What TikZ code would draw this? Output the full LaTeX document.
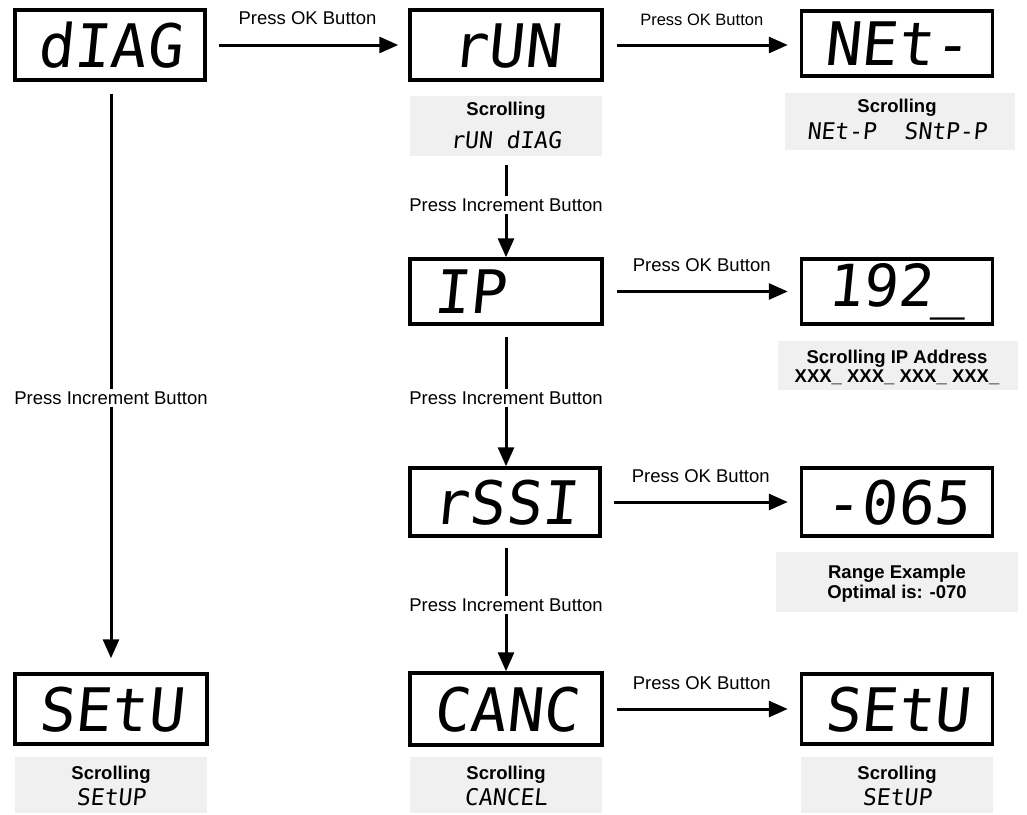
\documentclass[tikz,border=0pt]{standalone}
\usepackage{fontspec}
\setmainfont{Liberation Sans}
\newfontfamily\segfont[FakeSlant=0.1]{DejaVu Sans Mono}
\usetikzlibrary{arrows.meta}
\definecolor{scrgrey}{RGB}{240,240,240}
\tikzset{
  disp/.style={draw, line width=3.5pt, inner sep=0pt, minimum width=191pt, minimum height=70pt,
    text height=44pt, text depth=0pt, font=\segfont\fontsize{60}{60}\selectfont},
  scrbox/.style={fill=scrgrey, draw=none, inner sep=0pt},
  scrtxt/.style={inner sep=0pt, anchor=base, font=\bfseries\fontsize{18.5}{22}\selectfont},
  segtxt/.style={inner sep=0pt, anchor=base, font=\segfont\fontsize{23}{23}\selectfont},
  lab/.style={inner sep=0pt, font=\fontsize{18.5}{22}\selectfont},
  vlab/.style={lab, fill=white, inner sep=3pt},
  arr/.style={line width=3pt, -{Triangle[length=19pt,width=16pt]}}
}
\begin{document}
\begin{tikzpicture}[x=1pt,y=-1pt]
\useasboundingbox (0,0) rectangle (1027,814);

% ---- display boxes
\node[disp, minimum width=190pt] (diag) at (110,45) {dIAG};
\node[disp, minimum width=192pt] (setL) at (111,709) {SEtU};
\node[disp, minimum width=192pt] (run) at (506,45) {rUN};
\node[disp, minimum width=192pt, minimum height=65pt] (ip) at (506,291.5) {IP\phantom{PP}};
\node[disp, minimum width=190pt, minimum height=68pt] (rssi) at (505,502) {rSSI};
\node[disp, minimum width=192pt, minimum height=72pt] (canc) at (506,709) {CANC};
\node[disp, minimum height=65pt] (net) at (897,43.5) {NEt-};
\node[disp, minimum height=65pt, text height=42pt, text depth=12pt,
      font=\segfont\fontsize{58}{58}\selectfont] (n192) at (897,291.5) {192\_};
\node[disp, minimum height=68pt] (n065) at (897,502) {-065};
\node[disp] (setR) at (897,709) {SEtU};

% ---- grey scrolling boxes
\node[scrbox, minimum width=192pt, minimum height=56pt] (gsetL) at (111,785) {};
\node[scrtxt] (gsetLa) at (111,779) {Scrolling};
\node[segtxt] (gsetLb) at (111,805) {SEtUP};

\node[scrbox, minimum width=192pt, minimum height=60pt] (grun) at (506,126) {};
\node[scrtxt] (gruna) at (506,115.6) {Scrolling};
\node[segtxt] (grunb) at (506,148) {rUN dIAG};

\node[scrbox, minimum width=192pt, minimum height=56pt] (gcanc) at (506,785) {};
\node[scrtxt] (gcanca) at (506,779) {Scrolling};
\node[segtxt] (gcancb) at (506,805) {CANCEL};

\node[scrbox, minimum width=230pt, minimum height=57pt] (gnet) at (900,121.5) {};
\node[scrtxt] (gneta) at (897,112) {Scrolling};
\node[segtxt] (gnetb) at (897,139) {NEt-P\ \ SNtP-P};

\node[scrbox, minimum width=240pt, minimum height=49pt] (gip) at (898,365.5) {};
\node[scrtxt] (gipa) at (897,363.6) {Scrolling IP Address};
\node[scrtxt] (gipb) at (897,382.6) {XXX\_ XXX\_ XXX\_ XXX\_};

\node[scrbox, minimum width=242pt, minimum height=60pt] (grange) at (897,582) {};
\node[scrtxt] (grangea) at (897,578.6) {Range Example};
\node[scrtxt] (grangeb) at (897,598.6) {Optimal is: -070};

\node[scrbox, minimum width=192pt, minimum height=56pt] (gsetR) at (897,785) {};
\node[scrtxt] (gsetRa) at (897,779) {Scrolling};
\node[segtxt] (gsetRb) at (897,805) {SEtUP};

% ---- horizontal arrows
\draw[arr, shorten <=12pt, shorten >=10pt] (diag.east) -- (run.west)
  node[lab, midway, above=19pt] (l1) {Press OK Button};
\draw[arr, shorten <=13pt, shorten >=12pt] (run.east) -- (run.east -| net.west)
  node[lab, midway, above=18pt, font=\fontsize{16.5}{20}\selectfont] (l2) {Press OK Button};
\draw[arr, shorten <=13pt, shorten >=12pt] (ip.east) -- (n192.west)
  node[lab, midway, above=18pt] (l3) {Press OK Button};
\draw[arr, shorten <=12pt, shorten >=12pt] (rssi.east) -- (rssi.east -| n065.west)
  node[lab, midway, above=18pt] (l4) {Press OK Button};
\draw[arr, shorten <=13pt, shorten >=12pt] (canc.east) -- (setR.west)
  node[lab, midway, above=18pt] (l5) {Press OK Button};

% ---- vertical arrows
\draw[arr, shorten <=12pt, shorten >=14pt] (diag.south -| setL.north) -- (setL.north);
\node[vlab] (v1) at (111,398) {Press Increment Button};
\draw[arr, shorten <=9pt, shorten >=0pt] (grun.south) -- (ip.north);
\node[vlab] (v2) at (506,205) {Press Increment Button};
\draw[arr, shorten <=11pt, shorten >=0pt] (ip.south) -- (ip.south |- rssi.north);
\node[vlab] (v3) at (506,398) {Press Increment Button};
\draw[arr, shorten <=10pt, shorten >=0pt] (ip.south |- rssi.south) -- (canc.north);
\node[vlab] (v4) at (506,605) {Press Increment Button};
\end{tikzpicture}
\end{document}
